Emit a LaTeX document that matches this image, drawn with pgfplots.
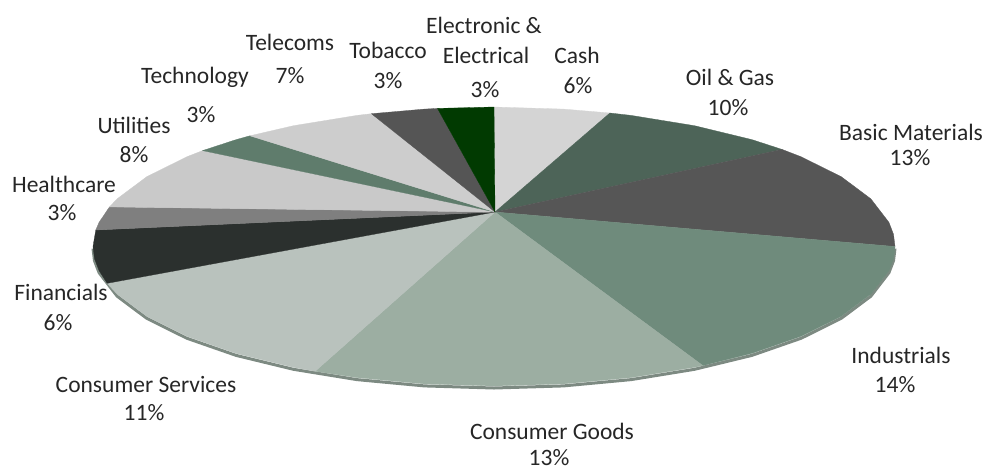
\documentclass[border=0pt]{standalone}
\usepackage{fontspec}
\setmainfont{Carlito}
\usepackage{pgfplots}
\pgfplotsset{compat=1.18}
\definecolor{cCash}{HTML}{D4D4D4}
\definecolor{cOil}{HTML}{4D6458}
\definecolor{cBasic}{HTML}{565656}
\definecolor{cInd}{HTML}{6F8B7C}
\definecolor{cGoods}{HTML}{9CAEA2}
\definecolor{cServ}{HTML}{B9C2BD}
\definecolor{cFin}{HTML}{2B302E}
\definecolor{cHealth}{HTML}{7F7F7F}
\definecolor{cUtil}{HTML}{C9C9C9}
\definecolor{cTech}{HTML}{5F7C6C}
\definecolor{cTel}{HTML}{CDCDCD}
\definecolor{cTob}{HTML}{555555}
\definecolor{cElec}{HTML}{013A01}
\definecolor{cEdge}{HTML}{7D8A82}
\tikzset{lbl/.style={anchor=base, inner sep=0pt, text=black!85, font=\fontsize{23.5}{26}\selectfont}}
\begin{document}
\begin{tikzpicture}
\begin{axis}[
  width=987pt, height=472pt, scale only axis,
  xmin=0, xmax=987, ymin=0, ymax=472, y dir=reverse,
  xtick=\empty, ytick=\empty, axis line style={draw=none},
  clip=false,
]
% 3D rim (front edge)
\addplot[draw=cEdge, line width=3pt] coordinates {
(895,248.5) (893.5,260.7) (888.9,272.7) (870.8,296.2) (841.3,318.25) (801.2,338.2) (751.8,355.4) (694.5,369.3) (631.1,379.6) (563.6,385.9) (494,388) (424.4,385.9) (356.9,379.6) (293.5,369.3) (236.2,355.4) (186.8,338.2) (146.7,318.25) (117.2,296.2) (99.1,272.7) (94.5,260.7) (93,248.5)};
% Cash 6%
\addplot[fill=cCash, draw=cCash, line width=0.3pt] coordinates {(495,212) (494,107) (563.6,109.1) (609.9,113.0)} -- cycle;
% Oil & Gas 10%
\addplot[fill=cOil, draw=cOil, line width=0.3pt] coordinates {(495,212) (609.9,113) (631.1,115.4) (694.5,125.7) (751.8,139.6) (782,149.4)} -- cycle;
% Basic Materials 13%
\addplot[fill=cBasic, draw=cBasic, line width=0.3pt] coordinates {(495,212) (782,149.4) (801.2,156.8) (841.3,176.75) (870.8,198.8) (888.9,222.3) (893.5,234.3) (895,246.5)} -- cycle;
% Industrials 14%
\addplot[fill=cInd, draw=cInd, line width=0.3pt] coordinates {(495,212) (895,246.5) (893.5,258.7) (888.9,270.7) (870.8,294.2) (841.3,316.25) (801.2,336.2) (751.8,353.4) (702.9,365.6)} -- cycle;
% Consumer Goods 13%
\addplot[fill=cGoods, draw=cGoods, line width=0.3pt] coordinates {(495,212) (702.9,365.6) (694.5,367.3) (631.1,377.6) (563.6,383.9) (494,386) (424.4,383.9) (356.9,377.6) (315.1,371.3)} -- cycle;
% Consumer Services 11%
\addplot[fill=cServ, draw=cServ, line width=0.3pt] coordinates {(495,212) (315.1,371.3) (293.5,367.3) (236.2,353.4) (186.8,336.2) (146.7,316.25) (117.2,294.2) (107.2,283.3)} -- cycle;
% Financials 6%
\addplot[fill=cFin, draw=cFin, line width=0.3pt] coordinates {(495,212) (107.2,283.3) (99.1,270.7) (94.5,258.7) (93,246.5) (95.8,230)} -- cycle;
% Healthcare 3%
\addplot[fill=cHealth, draw=cHealth, line width=0.3pt] coordinates {(495,212) (95.8,230) (99.1,222.3) (109.5,206.9)} -- cycle;
% Utilities 8%
\addplot[fill=cUtil, draw=cUtil, line width=0.3pt] coordinates {(495,212) (109.5,206.9) (117.2,198.8) (146.7,176.75) (186.8,156.8) (202.6,150.6)} -- cycle;
% Technology 3%
\addplot[fill=cTech, draw=cTech, line width=0.3pt] coordinates {(495,212) (202.6,150.6) (236.2,139.6) (249.9,135.8)} -- cycle;
% Telecoms 7%
\addplot[fill=cTel, draw=cTel, line width=0.3pt] coordinates {(495,212) (249.9,135.8) (293.5,125.7) (356.9,115.4) (371.4,113.7)} -- cycle;
% Tobacco 3%
\addplot[fill=cTob, draw=cTob, line width=0.3pt] coordinates {(495,212) (371.4,113.7) (424.4,109.1) (437.5,108.4)} -- cycle;
% Electronic & Electrical 3%
\addplot[fill=cElec, draw=cElec, line width=0.3pt] coordinates {(495,212) (437.5,108.4) (494,107)} -- cycle;

% labels
\node[lbl] at (axis cs:577,63) {Cash};
\node[lbl] at (axis cs:578,93) {6\%};
\node[lbl] at (axis cs:484,33) {Electronic \&};
\node[lbl] at (axis cs:486,63) {Electrical};
\node[lbl] at (axis cs:485,97) {3\%};
\node[lbl] at (axis cs:388,58) {Tobacco};
\node[lbl] at (axis cs:388,88) {3\%};
\node[lbl] at (axis cs:290,50) {Telecoms};
\node[lbl] at (axis cs:290,83) {7\%};
\node[lbl] at (axis cs:195,83) {Technology};
\node[lbl] at (axis cs:201,122) {3\%};
\node[lbl] at (axis cs:134,133) {Utilities};
\node[lbl] at (axis cs:134,162) {8\%};
\node[lbl] at (axis cs:64,192) {Healthcare};
\node[lbl] at (axis cs:62,220) {3\%};
\node[lbl] at (axis cs:61,300) {Financials};
\node[lbl] at (axis cs:58,330) {6\%};
\node[lbl] at (axis cs:146,392) {Consumer Services};
\node[lbl] at (axis cs:144,420) {11\%};
\node[lbl] at (axis cs:552,439) {Consumer Goods};
\node[lbl] at (axis cs:549,465) {13\%};
\node[lbl] at (axis cs:901,363) {Industrials};
\node[lbl] at (axis cs:895,392) {14\%};
\node[lbl] at (axis cs:911,140) {Basic Materials};
\node[lbl] at (axis cs:910,165) {13\%};
\node[lbl] at (axis cs:730,85) {Oil \& Gas};
\node[lbl] at (axis cs:728,115) {10\%};
\end{axis}
\end{tikzpicture}
\end{document}
